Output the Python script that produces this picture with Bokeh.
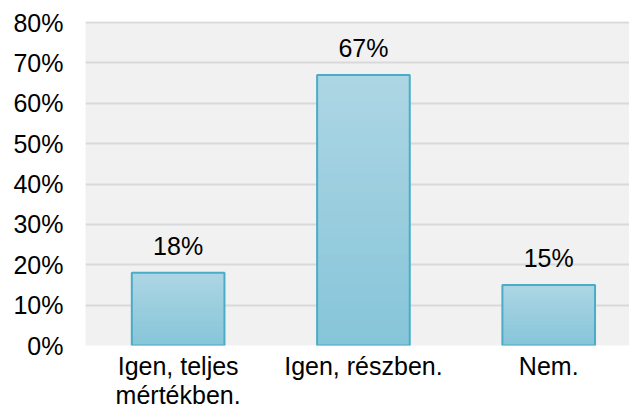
from bokeh.plotting import figure
from bokeh.models import Range1d, FixedTicker, ColumnDataSource
from bokeh.core.properties import value
from bokeh.embed import file_html
from bokeh.resources import INLINE

categories = ["Igen, teljes\nmértékben.", "Igen, részben.", "Nem."]
values = [18, 67, 15]
labels = ["18%", "67%", "15%"]
y_ticks = [0, 10, 20, 30, 40, 50, 60, 70, 80]
y_tick_labels = ["0%", "10%", "20%", "30%", "40%", "50%", "60%", "70%", "80%"]

FONT = "Liberation Sans"
FS = "25px"
xs = [i + 0.5 for i in range(len(categories))]

p = figure(width=629, height=411, output_backend="svg", toolbar_location=None,
           x_range=Range1d(0, 2.936), y_range=Range1d(0, 80.25),
           min_border_left=85, min_border_right=0, min_border_top=21, min_border_bottom=66)
p.outline_line_color = None
p.background_fill_color = "#f1f1f1"
p.border_fill_color = "white"

# gradient bars: stacked slices derived from each value
N = 30
top_c = (0xad, 0xd6, 0xe4)
bot_c = (0x86, 0xc5, 0xd9)
sx, sb, st, sc = [], [], [], []
for x, v in zip(xs, values):
    for k in range(N):
        t = (k + 0.5) / N
        c = tuple(int(round(bot_c[j] + (top_c[j] - bot_c[j]) * t)) for j in range(3))
        sx.append(x)
        sb.append(v * k / N)
        st.append(min(v, v * (k + 1.6) / N))
        sc.append("#%02x%02x%02x" % c)
p.vbar(x=sx, bottom=sb, top=st, width=0.5, fill_color=sc, line_color=None)
p.vbar(x=xs, bottom=0, top=values, width=0.5, fill_color=None,
       line_color="#4aacc6", line_width=2)

src = ColumnDataSource(dict(x=xs, y=values, t=labels))
p.text(x="x", y="y", text="t", source=src, text_align="center",
       text_baseline="alphabetic", y_offset=-27, text_font=value(FONT),
       text_font_size=FS, text_color="#000000")

p.xaxis.ticker = FixedTicker(ticks=xs)
p.xaxis.major_label_overrides = {x: c for x, c in zip(xs, categories)}
p.yaxis.ticker = FixedTicker(ticks=y_ticks)
p.yaxis.major_label_overrides = {t: l for t, l in zip(y_ticks, y_tick_labels)}
for ax in (p.xaxis, p.yaxis):
    ax.axis_line_color = None
    ax.major_tick_line_color = None
    ax.minor_tick_line_color = None
    ax.major_tick_out = 0
    ax.major_tick_in = 0
    ax.minor_tick_out = 0
    ax.major_label_text_font = FONT
    ax.major_label_text_font_size = FS
    ax.major_label_text_color = "#000000"
    ax.major_label_text_line_height = 1.05
p.yaxis.major_label_standoff = 22
p.xaxis.major_label_standoff = 6

p.xgrid.grid_line_color = None
p.ygrid.ticker = FixedTicker(ticks=y_ticks)
p.ygrid.grid_line_color = "#d9d9d9"
p.ygrid.grid_line_width = 2

open("out.html", "w").write(file_html(p, INLINE))
